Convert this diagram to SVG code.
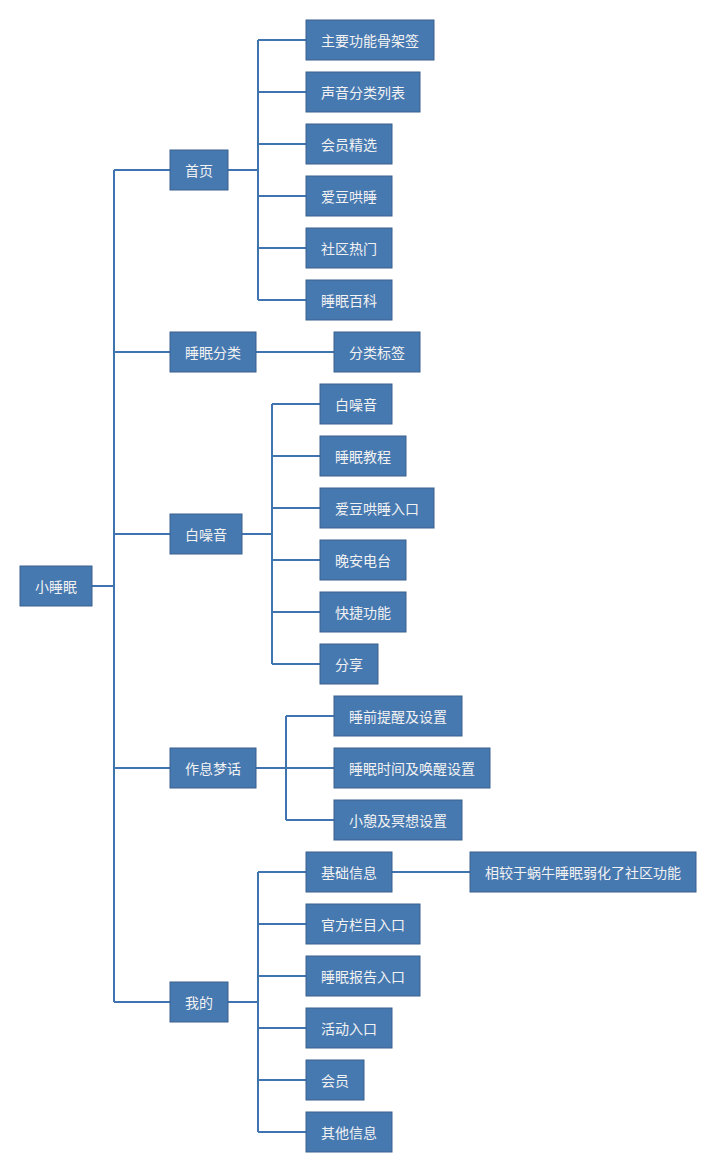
<svg xmlns="http://www.w3.org/2000/svg" width="716" height="1172" viewBox="0 0 716 1172">
<style>
.n rect{fill:#4779b1;stroke:#3a6190;stroke-width:1}
.n text{fill:#f2f2f2;font-family:"Noto Sans CJK SC","Liberation Sans",sans-serif;font-size:14px;text-anchor:middle;dominant-baseline:central}
.c path{fill:none;stroke:#3f74b0;stroke-width:2}
</style>
<rect width="716" height="1172" fill="#fff"/>
<g class="c">
<path d="M92 586H114M114 170V1002M114 170H170M114 352H170M114 534H170M114 768H170M114 1002H170"/>
<path d="M228 170H258M258 40V300M258 40H306M258 92H306M258 144H306M258 196H306M258 248H306M258 300H306"/>
<path d="M256 352H334"/>
<path d="M242 534H272M272 404V664M272 404H320M272 456H320M272 508H320M272 560H320M272 612H320M272 664H320"/>
<path d="M256 768H286M286 716V820M286 716H334M286 768H334M286 820H334"/>
<path d="M228 1002H258M258 872V1132M258 872H306M258 924H306M258 976H306M258 1028H306M258 1080H306M258 1132H306"/>
<path d="M392 872H470"/>
</g>
<g id="root" class="n"><rect x="20" y="566" width="72" height="40"/><text x="56" y="586">小睡眠</text></g>
<g id="n1" class="n"><rect x="170" y="150" width="58" height="40"/><text x="199" y="170">首页</text></g>
<g id="n2" class="n"><rect x="170" y="332" width="86" height="40"/><text x="213" y="352">睡眠分类</text></g>
<g id="n3" class="n"><rect x="170" y="514" width="72" height="40"/><text x="206" y="534">白噪音</text></g>
<g id="n4" class="n"><rect x="170" y="748" width="86" height="40"/><text x="213" y="768">作息梦话</text></g>
<g id="n5" class="n"><rect x="170" y="982" width="58" height="40"/><text x="199" y="1002">我的</text></g>
<g id="n1a" class="n"><rect x="306" y="20" width="128" height="40"/><text x="370" y="40">主要功能骨架签</text></g>
<g id="n1b" class="n"><rect x="306" y="72" width="114" height="40"/><text x="363" y="92">声音分类列表</text></g>
<g id="n1c" class="n"><rect x="306" y="124" width="86" height="40"/><text x="349" y="144">会员精选</text></g>
<g id="n1d" class="n"><rect x="306" y="176" width="86" height="40"/><text x="349" y="196">爱豆哄睡</text></g>
<g id="n1e" class="n"><rect x="306" y="228" width="86" height="40"/><text x="349" y="248">社区热门</text></g>
<g id="n1f" class="n"><rect x="306" y="280" width="86" height="40"/><text x="349" y="300">睡眠百科</text></g>
<g id="n2a" class="n"><rect x="334" y="332" width="86" height="40"/><text x="377" y="352">分类标签</text></g>
<g id="n3a" class="n"><rect x="320" y="384" width="72" height="40"/><text x="356" y="404">白噪音</text></g>
<g id="n3b" class="n"><rect x="320" y="436" width="86" height="40"/><text x="363" y="456">睡眠教程</text></g>
<g id="n3c" class="n"><rect x="320" y="488" width="114" height="40"/><text x="377" y="508">爱豆哄睡入口</text></g>
<g id="n3d" class="n"><rect x="320" y="540" width="86" height="40"/><text x="363" y="560">晚安电台</text></g>
<g id="n3e" class="n"><rect x="320" y="592" width="86" height="40"/><text x="363" y="612">快捷功能</text></g>
<g id="n3f" class="n"><rect x="320" y="644" width="58" height="40"/><text x="349" y="664">分享</text></g>
<g id="n4a" class="n"><rect x="334" y="696" width="128" height="40"/><text x="398" y="716">睡前提醒及设置</text></g>
<g id="n4b" class="n"><rect x="334" y="748" width="156" height="40"/><text x="412" y="768">睡眠时间及唤醒设置</text></g>
<g id="n4c" class="n"><rect x="334" y="800" width="128" height="40"/><text x="398" y="820">小憩及冥想设置</text></g>
<g id="n5a" class="n"><rect x="306" y="852" width="86" height="40"/><text x="349" y="872">基础信息</text></g>
<g id="n5a1" class="n"><rect x="470" y="852" width="226" height="40"/><text x="583" y="872">相较于蜗牛睡眠弱化了社区功能</text></g>
<g id="n5b" class="n"><rect x="306" y="904" width="114" height="40"/><text x="363" y="924">官方栏目入口</text></g>
<g id="n5c" class="n"><rect x="306" y="956" width="114" height="40"/><text x="363" y="976">睡眠报告入口</text></g>
<g id="n5d" class="n"><rect x="306" y="1008" width="86" height="40"/><text x="349" y="1028">活动入口</text></g>
<g id="n5e" class="n"><rect x="306" y="1060" width="58" height="40"/><text x="335" y="1080">会员</text></g>
<g id="n5f" class="n"><rect x="306" y="1112" width="86" height="40"/><text x="349" y="1132">其他信息</text></g>
</svg>
